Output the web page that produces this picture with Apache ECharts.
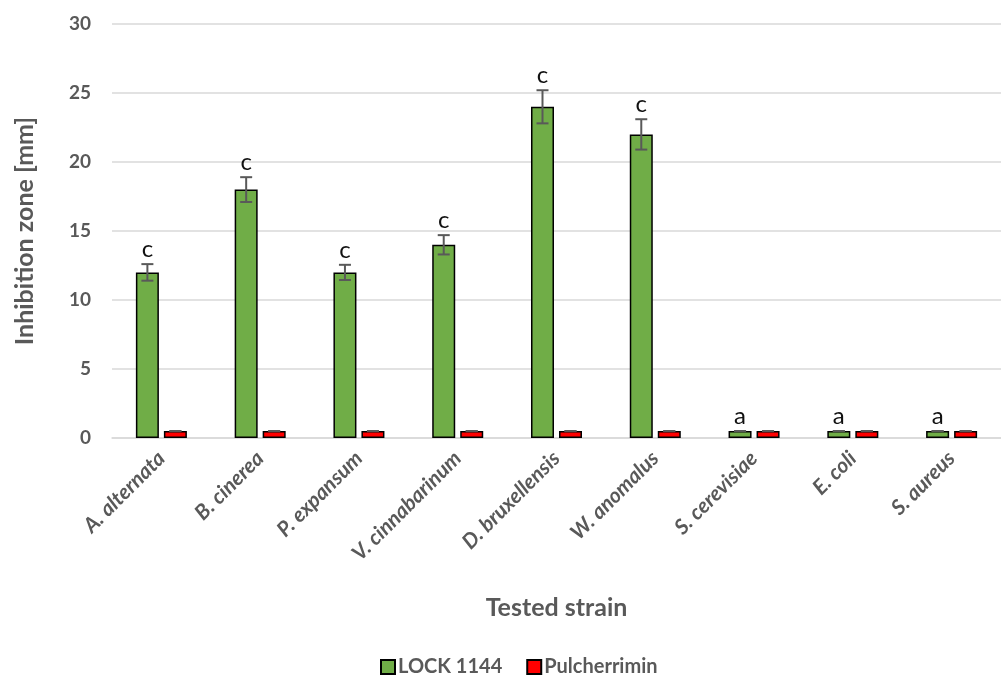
<!DOCTYPE html>
<html>
<head>
<meta charset="utf-8">
<script src="https://cdn.jsdelivr.net/npm/echarts@6/dist/echarts.min.js"></script>
<style>
  html, body { margin: 0; padding: 0; background: #fff; }
  #chart { width: 1001px; height: 688px; }
</style>
</head>
<body>
<div id="chart"></div>
<script>
// Tested strains and inhibition-zone measurements (mm)
const strains = ['A. alternata', 'B. cinerea', 'P. expansum', 'V. cinnabarinum', 'D. bruxellensis', 'W. anomalus', 'S. cerevisiae', 'E. coli', 'S. aureus'];
const lockValues = [12, 18, 12, 14, 24, 22, 0.5, 0.5, 0.5];
const lockErrors = [0.6, 0.9, 0.55, 0.7, 1.2, 1.1, 0, 0, 0];
const pulValues = [0.5, 0.5, 0.5, 0.5, 0.5, 0.5, 0.5, 0.5, 0.5];
const pulErrors = [0, 0, 0, 0, 0, 0, 0, 0, 0];
const letters = ['c', 'c', 'c', 'c', 'c', 'c', 'a', 'a', 'a'];
const yTicks = [0, 5, 10, 15, 20, 25, 30];

const FONT = 'Lato, "Open Sans", sans-serif';
const GREY = '#595959';
const BAR_W = 23;
const GAP = 5;

const chart = echarts.init(document.getElementById('chart'));

// Error bar with caps, plus an optional significance letter above it
function errorBar(offsetDir, showLetter) {
  return function (params, api) {
    const i = api.value(0);
    const v = api.value(1);
    const e = api.value(2);
    const base = api.coord([i, v]);
    const off = offsetDir * (BAR_W / 2 + GAP / 2);
    const x = base[0] + off;
    const top = api.coord([i, v + e])[1];
    const bot = api.coord([i, v - e])[1];
    const cap = 6;
    const style = { stroke: GREY, lineWidth: 2 };
    const children = [
      { type: 'line', shape: { x1: x, y1: top, x2: x, y2: bot }, style },
      { type: 'line', shape: { x1: x - cap, y1: top, x2: x + cap, y2: top }, style },
      { type: 'line', shape: { x1: x - cap, y1: bot, x2: x + cap, y2: bot }, style }
    ];
    if (showLetter) {
      children.push({
        type: 'text',
        style: {
          text: letters[i], x: x, y: top - 3,
          textAlign: 'center', textVerticalAlign: 'bottom',
          font: '24px ' + FONT, fill: '#111'
        }
      });
    }
    return { type: 'group', children };
  };
}

chart.setOption({
  animation: false,
  textStyle: { fontFamily: FONT },
  grid: { left: 112, top: 24, width: 900, height: 414, containLabel: false },
  legend: {
    bottom: 6,
    left: 375,
    itemWidth: 14,
    itemHeight: 14,
    itemGap: 24,
    icon: 'rect',
    textStyle: { color: GREY, fontSize: 20, fontWeight: 'bold', fontFamily: FONT, padding: [0, 0, 0, -2] },
    data: ['LOCK 1144', 'Pulcherrimin']
  },
  xAxis: {
    type: 'category',
    data: strains,
    name: 'Tested strain',
    nameLocation: 'middle',
    nameGap: 157,
    nameTextStyle: { color: GREY, fontSize: 25, fontWeight: 'bold', fontFamily: FONT },
    axisLine: { lineStyle: { color: '#d9d9d9', width: 1.5 } },
    axisTick: { show: false },
    axisLabel: {
      rotate: 45, margin: 17, color: GREY, fontSize: 21,
      fontWeight: 'bold', fontStyle: 'italic', fontFamily: FONT, interval: 0
    }
  },
  yAxis: {
    type: 'value',
    min: 0, max: 30, interval: 5,
    name: 'Inhibition zone [mm]',
    nameLocation: 'middle',
    nameGap: 75,
    nameTextStyle: { color: GREY, fontSize: 25, fontWeight: 'bold', fontFamily: FONT },
    axisLine: { show: false },
    axisTick: { show: false },
    axisLabel: {
      margin: 21, color: GREY, fontSize: 19, fontWeight: 'bold', fontFamily: FONT,
      formatter: v => yTicks.includes(v) ? String(v) : ''
    },
    splitLine: { lineStyle: { color: '#d9d9d9', width: 1.5 } }
  },
  series: [
    {
      name: 'LOCK 1144', type: 'bar', data: lockValues,
      barWidth: BAR_W, barGap: (GAP / BAR_W * 100) + '%',
      itemStyle: { color: '#70AD47', borderColor: '#000', borderWidth: 1.5 }
    },
    {
      name: 'Pulcherrimin', type: 'bar', data: pulValues,
      barWidth: BAR_W,
      itemStyle: { color: '#FF0000', borderColor: '#000', borderWidth: 1.5 }
    },
    {
      type: 'custom', name: 'lockErr', z: 5,
      renderItem: errorBar(-1, true),
      data: lockValues.map((v, i) => [i, v, lockErrors[i]])
    },
    {
      type: 'custom', name: 'pulErr', z: 5,
      renderItem: errorBar(1, false),
      data: pulValues.map((v, i) => [i, v, pulErrors[i]])
    }
  ]
});
</script>
</body>
</html>
